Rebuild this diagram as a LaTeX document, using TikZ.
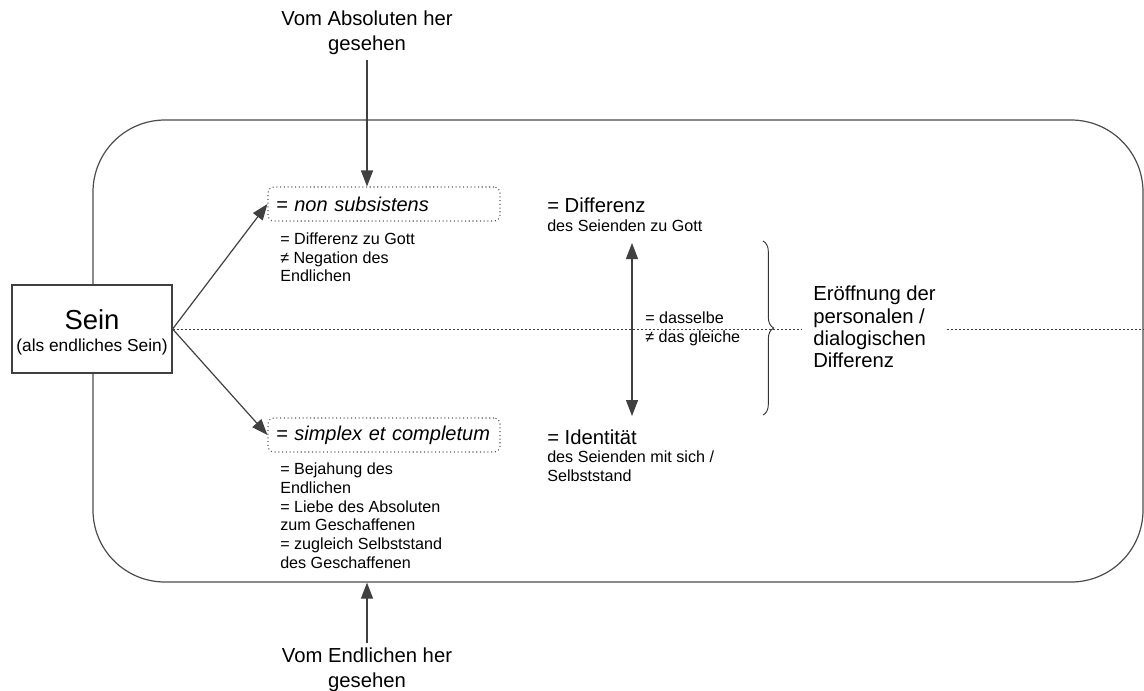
\documentclass[tikz,border=0pt]{standalone}
\usepackage{fontspec}
\setmainfont{Liberation Sans}
\usetikzlibrary{positioning,arrows.meta,decorations.pathreplacing}

\tikzset{
  bigtext/.style={font=\fontsize{15.2}{18.7}\selectfont},
  smalltext/.style={font=\fontsize{12.1}{13.6}\selectfont},
  framebox/.style={draw=black!70, line width=0.9pt, rounded corners=54pt, inner sep=0pt},
  termbox/.style={draw=black!65, dotted, line width=0.8pt, rounded corners=4.5pt,
    minimum width=174pt, minimum height=25.5pt, text width=162pt, inner xsep=6pt,
    align=left, font=\fontsize{15}{18}\selectfont\itshape},
  notetext/.style={smalltext, align=left, anchor=north west, inner sep=0pt},
  titletext/.style={bigtext, anchor=north west, inner sep=0pt},
  arr/.style={draw=black!75, line width=0.9pt, -{Triangle[length=12pt,width=9pt]}},
  sepline/.style={draw=black!75, line width=0.75pt, dash pattern=on 1.5pt off 1.5pt},
  bracket/.style={draw=black!80, line width=0.7pt, decorate, decoration={brace, amplitude=8pt}}
}

\begin{document}
\begin{tikzpicture}[x=0.75pt,y=-0.75pt]
    \useasboundingbox (0,0) rectangle (1144,690);

    % big frame
    \node[framebox, minimum width=787.5pt, minimum height=346.5pt] (frame) at (618,351) {};

    \node[draw=black!75, line width=0.9pt, fill=white, minimum width=120pt, minimum height=66pt,
      align=center, inner sep=0pt, font=\fontsize{13}{16.5}\selectfont] (sein) at (92,329)
      {\rule{0pt}{20pt}{\fontsize{20.6}{16}\selectfont Sein}\\(als endliches Sein)};

    \node[bigtext, align=center] (absol) at (367,33) {Vom Absoluten her\\gesehen};
    \node[bigtext, align=center] (endl) at (367,670) {Vom Endlichen her\\gesehen};

    \node[termbox] (nonsub) at (384,204) {= non subsistens};
    \node[termbox] (simplex) at (384,435) {= simplex et completum};

    \node[notetext] (nonsubnote) at (280,233) {= Differenz zu Gott\\≠ Negation des\\Endlichen};
    \node[notetext, font=\fontsize{12.1}{14}\selectfont] (simplexnote) at (280,463)
      {= Bejahung des\\Endlichen\\= Liebe des Absoluten\\zum Geschaffenen\\= zugleich Selbststand\\des Geschaffenen};

    \node[titletext] (difftitle) at (547,198) {= Differenz};
    \node[notetext] (diffnote) at (547,220) {des Seienden zu Gott};
    \node[titletext] (identtitle) at (547,430) {= Identität};
    \node[notetext] (identnote) at (547,451) {des Seienden mit sich /\\Selbststand};
    \node[notetext] (same) at (645,312) {= dasselbe\\≠ das gleiche};

    \node[font=\fontsize{15.2}{16.7}\selectfont, align=left, inner xsep=8.25pt, inner ysep=0pt,
      anchor=west] (eroeff) at (802,327) {Eröffnung der\\personalen /\\dialogischen\\Differenz};

    % dotted middle line
    \coordinate (rightend) at (1144,329);
    \draw[sepline] (sein.east) -- (eroeff.west |- sein.east);
    \draw[sepline] (eroeff.east |- sein.east) -- (rightend);

    \draw[arr] (sein.east) -- (nonsub.west);
    \draw[arr] (sein.east) -- (simplex.west);
    \draw[arr] (absol.south) -- (absol.south |- nonsub.north);
    \draw[arr] (endl.north) -- (endl.north |- frame.south);

    \coordinate (difftop) at (632,243);
    \coordinate (diffbot) at (632,416);
    \draw[arr, {Triangle[length=12pt,width=9pt]}-{Triangle[length=12pt,width=9pt]}] (difftop) -- (diffbot);

    \coordinate (bracetop) at (763,241);
    \coordinate (bracebot) at (763,415);
    \draw[bracket] (bracetop) -- (bracebot);
\end{tikzpicture}
\end{document}
